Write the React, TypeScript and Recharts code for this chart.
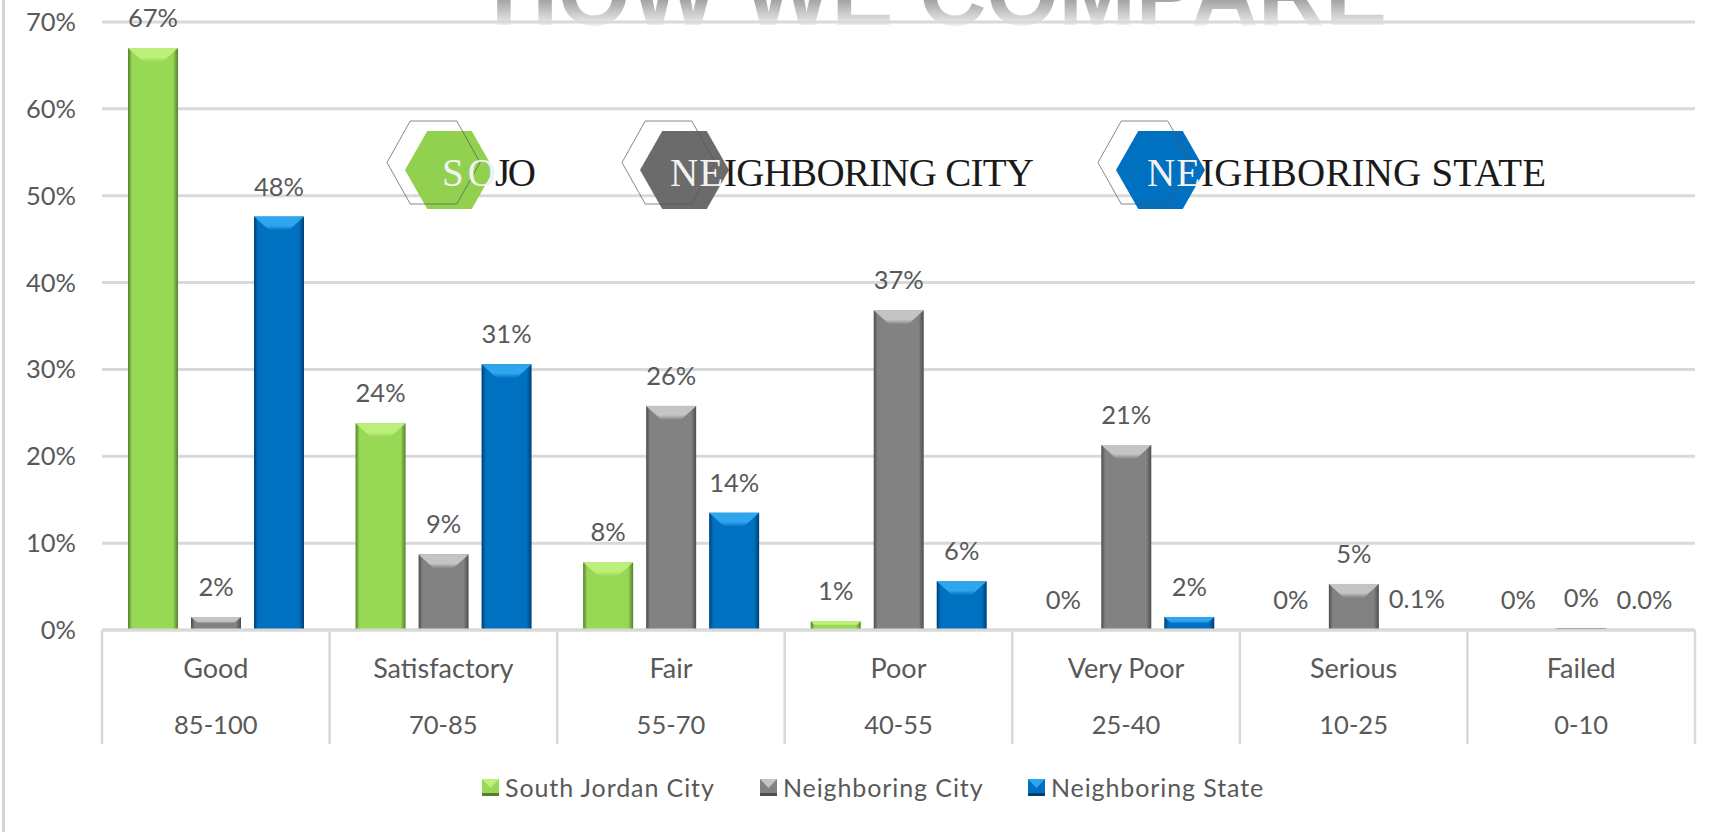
import React from 'react';
import { Bar, BarChart, CartesianGrid, LabelList, Legend, XAxis, YAxis } from 'recharts';

const categories = ['Good', 'Satisfactory', 'Fair', 'Poor', 'Very Poor', 'Serious', 'Failed'];
const ranges = ['85-100', '70-85', '55-70', '40-55', '25-40', '10-25', '0-10'];
const southJordan = [67, 23.8, 7.8, 1, 0, 0, 0];
const neighboringCity = [1.5, 8.7, 25.8, 36.8, 21.3, 5.3, 0.2];
const neighboringState = [47.6, 30.6, 13.5, 5.6, 1.5, 0.1, 0];
const southLabels = ['67%', '24%', '8%', '1%', '0%', '0%', '0%'];
const cityLabels = ['2%', '9%', '26%', '37%', '21%', '5%', '0%'];
const stateLabels = ['48%', '31%', '14%', '6%', '2%', '0.1%', '0.0%'];
const yTicks = [0, 10, 20, 30, 40, 50, 60, 70];

const data = categories.map((category, i) => ({
    category,
    range: ranges[i],
    south: southJordan[i],
    city: neighboringCity[i],
    state: neighboringState[i],
    southLabel: southLabels[i],
    cityLabel: cityLabels[i],
    stateLabel: stateLabels[i],
}));

const WIDTH = 1729;
const HEIGHT = 832;
const MARGIN = { top: 22, right: 34, bottom: 26, left: 0 };
const Y_AXIS_WIDTH = 102;
const BAND = (WIDTH - MARGIN.left - MARGIN.right - Y_AXIS_WIDTH) / categories.length;
const FONT = 'Lato, sans-serif';
const TEXT = '#595959';
const GRID = '#d9d9d9';

const palette = {
    south: { id: 'southFace', edge: '#557f2b', face: '#97d855', top: '#bdf07a' },
    city: { id: 'cityFace', edge: '#4d4d4d', face: '#828282', top: '#c4c4c4' },
    state: { id: 'stateFace', edge: '#003f70', face: '#0070c0', top: '#2ea6ee' },
};

const faceGradient = ({ id, edge, face }) => (
    <linearGradient id={id} key={id} x1="0" x2="1" y1="0" y2="0">
        <stop offset="0%" stopColor={edge} />
        <stop offset="8%" stopColor={face} />
        <stop offset="90%" stopColor={face} />
        <stop offset="100%" stopColor={edge} />
    </linearGradient>
);

const topGradient = ({ id, face, top }) => (
    <linearGradient id={`${id}Top`} key={`${id}Top`} x1="0" x2="0" y1="0" y2="1">
        <stop offset="0%" stopColor={top} />
        <stop offset="65%" stopColor={top} />
        <stop offset="100%" stopColor={face} />
    </linearGradient>
);

const bevelShape = (colors) => ({ x, y, width, height }) => {
    if (height < 1) return null;
    if (height < 3) return <rect x={x} y={y} width={width} height={height} fill={colors.edge} />;
    const bevel = Math.min(14, height * 0.5);
    const inset = bevel * 1.1;
    return (
        <g>
            <rect x={x} y={y} width={width} height={height} fill={`url(#${colors.id})`} />
            <polygon
                points={`${x},${y} ${x + width},${y} ${x + width - inset},${y + bevel} ${x + inset},${y + bevel}`}
                fill={`url(#${colors.id}Top)`}
            />
        </g>
    );
};

const CategoryTick = ({ x, y, payload, index }) => {
    const top = y - 8;
    return (
        <g>
            <line x1={x - BAND / 2} x2={x - BAND / 2} y1={top} y2={744} stroke={GRID} strokeWidth={2.5} />
            {index === categories.length - 1 && (
                <line x1={x + BAND / 2} x2={x + BAND / 2} y1={top} y2={744} stroke={GRID} strokeWidth={2.5} />
            )}
            <text x={x} y={678} textAnchor="middle" fontFamily={FONT} fontSize={27} fill={TEXT}>
                {payload.value}
            </text>
            <text x={x} y={734} textAnchor="middle" fontFamily={FONT} fontSize={25.5} fill={TEXT}>
                {ranges[index]}
            </text>
        </g>
    );
};

const legendItems = [
    { name: 'South Jordan City', colors: palette.south, left: 482 },
    { name: 'Neighboring City', colors: palette.city, left: 760 },
    { name: 'Neighboring State', colors: palette.state, left: 1028 },
];

const ChartLegend = () => (
    <div style={{ position: 'relative', height: 36, fontFamily: FONT, fontSize: 25, color: TEXT }}>
        {legendItems.map(item => (
            <div key={item.name} style={{ position: 'absolute', left: item.left, top: -1, height: 36, display: 'flex', alignItems: 'center', whiteSpace: 'nowrap', letterSpacing: 0.9 }}>
                <svg width={17} height={17} style={{ marginRight: 6 }}>
                    <rect width={17} height={17} fill={item.colors.face} />
                    <polygon points="0,0 17,0 8.5,9" fill={item.colors.top} />
                    <rect y={14} width={17} height={3} fill={item.colors.edge} />
                </svg>
                {item.name}
            </div>
        ))}
    </div>
);

const hexPoints = (left, right, top, bottom) => {
    const cut = (right - left) * 0.25;
    const mid = (top + bottom) / 2;
    return `${left},${mid} ${left + cut},${top} ${right - cut},${top} ${right},${mid} ${right - cut},${bottom} ${left + cut},${bottom}`;
};

const badges = [
    { white: 'SO', black: 'JO', fill: '#92d050', left: 405, x: 442, whiteWidth: 54, blackX: 495, blackWidth: 41 },
    { white: 'NE', black: 'IGHBORING CITY', fill: '#6b6b6b', left: 640, x: 670, whiteWidth: 53, blackX: 724, blackWidth: 310 },
    { white: 'NE', black: 'IGHBORING STATE', fill: '#0070c0', left: 1116, x: 1147, whiteWidth: 53, blackX: 1201, blackWidth: 345 },
];

const serif = "'Liberation Serif', serif";

const Badges = () => (
    <svg width={WIDTH} height={HEIGHT} style={{ position: 'absolute', left: 0, top: 0, pointerEvents: 'none' }}>
        {badges.map(b => (
            <g key={b.white + b.black}>
                <polygon points={hexPoints(b.left, b.left + 89, 131, 209)} fill={b.fill} />
                <polygon points={hexPoints(b.left - 18, b.left + 75, 121, 204)} fill="none" stroke="#555555" strokeOpacity={0.7} strokeWidth={1} />
                <text x={b.x} y={186} fontFamily={serif} fontSize={39} fill="#f2f2f2" textLength={b.whiteWidth} lengthAdjust="spacing">
                    {b.white}
                </text>
                <text x={b.blackX} y={186} fontFamily={serif} fontSize={39} fill="#1a1a1a" textLength={b.blackWidth} lengthAdjust="spacing">
                    {b.black}
                </text>
            </g>
        ))}
    </svg>
);

const Backdrop = () => (
    <svg width={WIDTH} height={HEIGHT} style={{ position: 'absolute', left: 0, top: 0 }}>
        <defs>
            <linearGradient id="titleFade" x1="0" x2="0" y1="0" y2="26" gradientUnits="userSpaceOnUse">
                <stop offset="0%" stopColor="#a4a4a4" />
                <stop offset="100%" stopColor="#f0f0f0" />
            </linearGradient>
        </defs>
        <rect x={2} y={0} width={3} height={HEIGHT} fill="#d4d4d4" />
        <text x={491} y={25} fontFamily="'Liberation Sans', sans-serif" fontWeight="bold" fontSize={92} fill="url(#titleFade)" textLength={896} lengthAdjust="spacingAndGlyphs">
            HOW WE COMPARE
        </text>
    </svg>
);

const labelStyle = { fontFamily: FONT, fontSize: 25.5, fill: TEXT };

export default function App() {
    return (
        <div style={{ position: 'fixed', left: 0, top: 0, width: WIDTH, height: HEIGHT, background: '#ffffff', overflow: 'hidden' }}>
            <Backdrop />
            <div style={{ position: 'absolute', left: 0, top: 0 }}>
                <BarChart width={WIDTH} height={HEIGHT} data={data} margin={MARGIN} barSize={50} barGap={13}>
                    <defs>
                        {Object.values(palette).map(faceGradient)}
                        {Object.values(palette).map(topGradient)}
                    </defs>
                    <CartesianGrid horizontal vertical={false} stroke={GRID} strokeWidth={3} />
                    <XAxis
                        dataKey="category"
                        height={140}
                        interval={0}
                        tickLine={false}
                        axisLine={{ stroke: GRID, strokeWidth: 3 }}
                        tick={CategoryTick}
                    />
                    <YAxis
                        width={Y_AXIS_WIDTH}
                        domain={[0, 70]}
                        ticks={yTicks}
                        interval={0}
                        tickLine={false}
                        axisLine={false}
                        tickMargin={20}
                        tickFormatter={v => `${v}%`}
                        tick={labelStyle}
                    />
                    <Legend verticalAlign="bottom" height={36} content={ChartLegend} />
                    <Bar dataKey="south" name="South Jordan City" shape={bevelShape(palette.south)} isAnimationActive={false}>
                        <LabelList dataKey="southLabel" position="top" offset={21} style={labelStyle} />
                    </Bar>
                    <Bar dataKey="city" name="Neighboring City" shape={bevelShape(palette.city)} isAnimationActive={false}>
                        <LabelList dataKey="cityLabel" position="top" offset={21} style={labelStyle} />
                    </Bar>
                    <Bar dataKey="state" name="Neighboring State" shape={bevelShape(palette.state)} isAnimationActive={false}>
                        <LabelList dataKey="stateLabel" position="top" offset={21} style={labelStyle} />
                    </Bar>
                </BarChart>
            </div>
            <Badges />
        </div>
    );
}
